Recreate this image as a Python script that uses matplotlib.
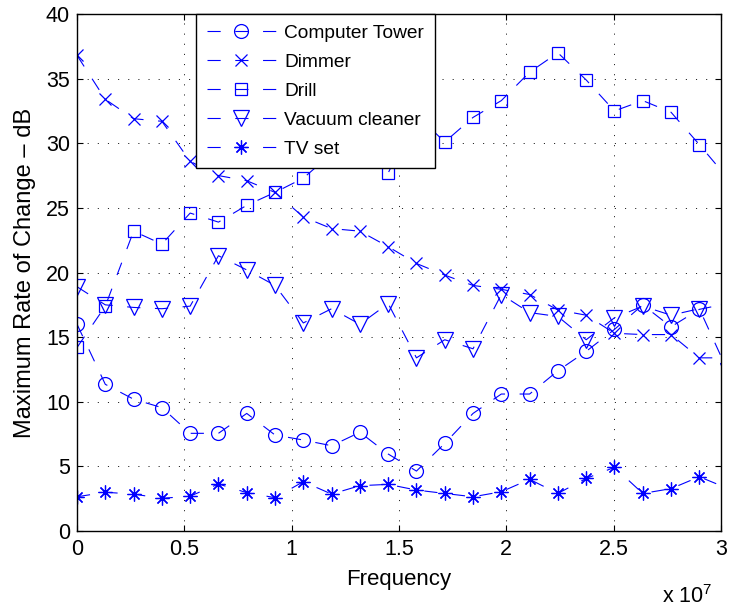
import matplotlib.pyplot as plt
from matplotlib.lines import Line2D
from matplotlib.ticker import FuncFormatter

plt.rcParams['font.family'] = ['Liberation Sans', 'DejaVu Sans']
plt.rcParams['mathtext.default'] = 'regular'
plt.rcParams['lines.scale_dashes'] = False

# frequency points, MHz
freq_mhz = [0, 1.318, 2.636, 3.954, 5.272, 6.59, 7.908, 9.226, 10.544, 11.862,
            13.18, 14.498, 15.816, 17.134, 18.452, 19.77, 21.088, 22.406,
            23.724, 25.042, 26.36, 27.678, 28.996, 30.314]

computer_tower = [16.0, 11.35, 10.2, 9.55, 7.56, 7.56, 9.1, 7.43, 7.04, 6.6,
                  7.64, 5.96, 4.64, 6.78, 9.1, 10.6, 10.6, 12.4, 13.9, 15.6,
                  17.5, 15.8, 17.15, 17.6]
dimmer = [36.8, 33.4, 31.9, 31.7, 28.6, 27.5, 27.1, 26.2, 24.3, 23.4, 23.2,
          22.0, 20.7, 19.8, 19.0, 18.7, 18.3, 17.1, 16.7, 15.3, 15.2, 15.2,
          13.4, 13.4]
drill = [14.2, 17.4, 23.2, 22.2, 24.6, 23.9, 25.2, 26.2, 27.3, 29.2, 30.4,
         27.7, 32.2, 30.1, 32.0, 33.3, 35.5, 37.0, 34.9, 32.5, 33.3, 32.4,
         29.9, 27.3]
vacuum = [18.9, 17.5, 17.3, 17.2, 17.4, 21.3, 20.2, 19.0, 16.1, 17.2, 16.0,
          17.6, 13.4, 14.8, 14.1, 18.3, 16.9, 16.6, 14.8, 16.5, 17.4, 16.7,
          17.2, 12.4]
tv_set = [2.65, 3.0, 2.86, 2.53, 2.7, 3.64, 2.97, 2.58, 3.82, 2.86, 3.51,
          3.61, 3.17, 2.91, 2.65, 3.04, 4.0, 2.91, 4.07, 4.93, 2.91, 3.28,
          4.2, 3.3]

labels = ['Computer Tower', 'Dimmer', 'Drill', 'Vacuum cleaner', 'TV set']
series = [computer_tower, dimmer, drill, vacuum, tv_set]
markers = ['o', 'x', 's', 'v', (8, 2, 0)]
msizes = [10, 8, 8.5, 11, 10]

freq = [f * 1e6 for f in freq_mhz]
dash = (9.5, 10.5)

fig = plt.figure(figsize=(7.3, 6.09), dpi=100)
ax = fig.add_axes([0.1055, 0.128, 0.882, 0.849])

handles = []
for vals, lab, mk, ms in zip(series, labels, markers, msizes):
    ax.plot(freq, vals, color='blue', lw=0.8, dashes=dash, marker=mk,
            ms=ms, mfc='none', mec='blue', mew=0.9)
    handles.append(Line2D([], [], color='blue', lw=0.8, dashes=dash, marker=mk,
                          ms=ms, mfc='none', mec='blue', mew=0.9))

ax.set_xlim(0, 3e7)
ax.set_ylim(0, 40)
ax.set_xticks([0, 0.5e7, 1e7, 1.5e7, 2e7, 2.5e7, 3e7])
ax.set_yticks(range(0, 41, 5))
ax.xaxis.set_major_formatter(FuncFormatter(lambda v, p: '%g' % (v / 1e7)))

ax.grid(True, color='black', lw=0.6, dashes=(0.8, 6.5))
ax.tick_params(direction='in', top=True, right=True, length=4, width=0.8,
               labelsize=15.5)
ax.tick_params(axis='x', pad=6)
ax.tick_params(axis='y', pad=5)
for s in ax.spines.values():
    s.set_linewidth(1.0)

ax.set_xlabel('Frequency', fontsize=16, labelpad=6)
ax.set_ylabel('Maximum Rate of Change \u2013 dB', fontsize=17, labelpad=7)
fig.text(0.976, 0.01, 'x 10$^{7}$', fontsize=15.5, ha='right', va='baseline')

leg = ax.legend(handles, labels, loc='upper left', bbox_to_anchor=(0.185, 1.0),
                fontsize=13.8, handlelength=3.6, handletextpad=0.45,
                labelspacing=0.6, borderpad=0.55, borderaxespad=0,
                fancybox=False, framealpha=1, edgecolor='black', numpoints=1)
leg.get_frame().set_linewidth(1.0)

plt.savefig('out.png', dpi=100)
